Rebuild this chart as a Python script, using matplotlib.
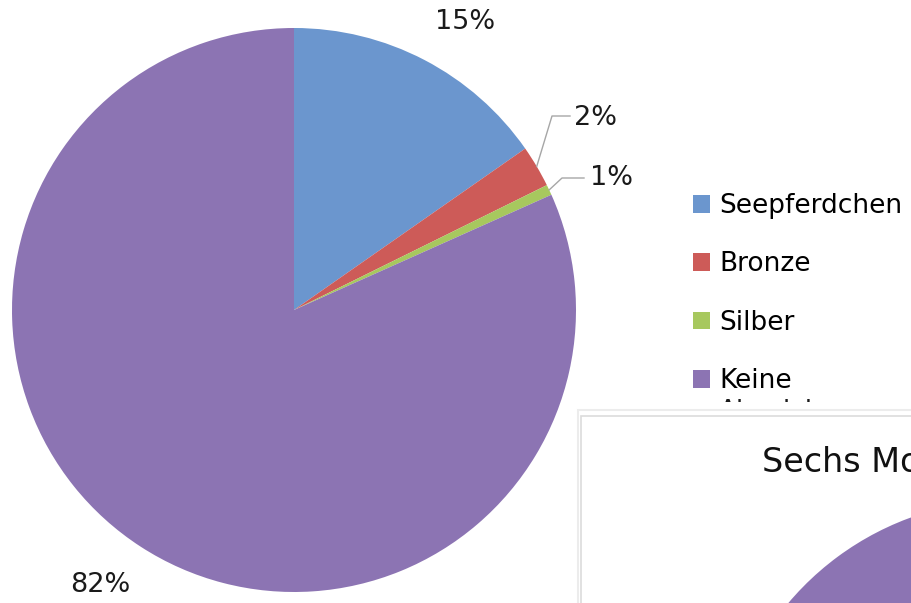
import matplotlib
matplotlib.use("Agg")
import matplotlib.pyplot as plt
import numpy as np
from matplotlib.patches import Rectangle

# ---- data ----
categories = ["Seepferdchen", "Bronze", "Silber", "Keine\nAbzeichen"]
values = [15.3, 2.4, 0.6, 81.7]
pct_labels = ["15%", "2%", "1%", "82%"]
colors = ["#6B96CE", "#CD5B58", "#A7C85E", "#8C74B3"]

second_title = "Sechs Monate"
second_values = [15.0, 3.0, 1.0, 81.0]

# ---- figure in pixel coordinates ----
W, H = 911, 603
fig = plt.figure(figsize=(W / 100, H / 100), dpi=100)
ax = fig.add_axes([0, 0, 1, 1])

cx, cy, R = 294, H - 310, 282
wedges, _ = ax.pie(values, colors=colors, startangle=90, counterclock=False,
                   center=(cx, cy), radius=R, frame=True,
                   wedgeprops=dict(linewidth=0))

# percentage labels
label_pos = [(465, 22, "center"), (574, 118, "left"), (590, 178, "left"), (100, 585, "center")]
for (x, y, ha), txt in zip(label_pos, pct_labels):
    ax.text(x, H - y, txt, fontsize=19.5, ha=ha, va="center", color="#1a1a1a")

# leader lines for small slices
elbows = {1: ((552, 116), (570, 116)), 2: ((562, 178), (584, 178))}
for i, (e1, e2) in elbows.items():
    w = wedges[i]
    mid = np.deg2rad((w.theta1 + w.theta2) / 2)
    sx, sy = cx + R * np.cos(mid), cy + R * np.sin(mid)
    ax.plot([sx, e1[0], e2[0]], [sy, H - e1[1], H - e2[1]],
            color="#a6a6a6", lw=1.0, zorder=3)

# legend (first line of each label; the rest is drawn below and hidden by the box)
first_lines = [c.split("\n")[0] for c in categories]
leg = ax.legend(wedges, first_lines, loc="upper left",
                bbox_to_anchor=(693 / W, 1 - 193 / H), bbox_transform=ax.transAxes,
                fontsize=19, frameon=False, handlelength=0.65, handleheight=0.65,
                handletextpad=0.34, labelspacing=1.23, borderpad=0, borderaxespad=0)
for c in categories:
    if "\n" in c:
        ax.text(719, H - 399, c.split("\n", 1)[1], fontsize=19, ha="left",
                va="top", color="#1a1a1a", zorder=6)

# second (overlapping) chart box
ax.add_patch(Rectangle((575, -20), 500, H - 402 + 20, facecolor="white",
                       edgecolor="none", zorder=9))
ax.add_patch(Rectangle((578, -20), 500, H - 410 + 20, facecolor="none",
                       edgecolor="#ececec", lw=1.5, zorder=10))
ax.add_patch(Rectangle((581, -20), 500, H - 416 + 20, facecolor="white",
                       edgecolor="#dcdcdc", lw=1.2, zorder=10))
ax.text(762, H - 463, second_title, fontsize=24, ha="left", va="center",
        color="#111111", zorder=12)
w2, _ = ax.pie(second_values, colors=colors, startangle=90, counterclock=False,
               center=(1010, H - 790), radius=290, frame=True,
               wedgeprops=dict(linewidth=0))
for w in w2:
    w.set_zorder(11)

ax.set_xlim(0, W)
ax.set_ylim(0, H)
ax.set_aspect("equal")
ax.axis("off")

fig.savefig("out.png", dpi=100)
